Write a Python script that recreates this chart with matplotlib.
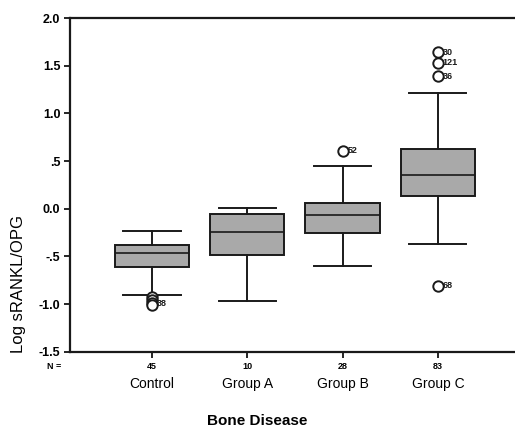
import matplotlib.pyplot as plt

plt.rcParams["font.family"] = ["Liberation Sans", "DejaVu Sans"]
plt.rcParams["axes.unicode_minus"] = False

groups = ["Control", "Group A", "Group B", "Group C"]
counts = [45, 10, 28, 83]
whis_lo = [-0.90, -0.97, -0.60, -0.37]
q1 = [-0.61, -0.48, -0.25, 0.13]
medians = [-0.46, -0.24, -0.07, 0.35]
q3 = [-0.38, -0.05, 0.06, 0.63]
whis_hi = [-0.23, 0.01, 0.45, 1.21]

# outliers: (group index, value, case label); the control cluster shares one label
outliers = [
    (0, -0.93, ""), (0, -0.96, ""), (0, -0.99, "38"), (0, -1.01, ""),
    (2, 0.61, "52"),
    (3, 1.64, "30"), (3, 1.53, "121"), (3, 1.39, "36"), (3, -0.81, "68"),
]

yticks = [2.0, 1.5, 1.0, 0.5, 0.0, -0.5, -1.0, -1.5]
ytick_labels = ["2.0", "1.5", "1.0", ".5", "0.0", "-.5", "-1.0", "-1.5"]


def main():
    fig = plt.figure(figsize=(5.15, 4.29), dpi=100)
    ax = fig.add_axes([0.136, 0.18, 0.864, 0.778])

    positions = list(range(1, len(groups) + 1))
    stats = []
    for i in range(len(groups)):
        stats.append({
            "med": medians[i], "q1": q1[i], "q3": q3[i],
            "whislo": whis_lo[i], "whishi": whis_hi[i], "fliers": [],
        })

    ax.bxp(stats, positions=positions, widths=0.78, patch_artist=True,
           showfliers=False, capwidths=0.6,
           boxprops=dict(facecolor="#a9a9a9", edgecolor="#1a1a1a", linewidth=1.4),
           medianprops=dict(color="#1a1a1a", linewidth=1.2),
           whiskerprops=dict(color="#1a1a1a", linewidth=1.4),
           capprops=dict(color="#1a1a1a", linewidth=1.4))

    for gi, val, lab in outliers:
        ax.plot(positions[gi], val, "o", markersize=7.5, markerfacecolor="white",
                markeredgecolor="#1a1a1a", markeredgewidth=1.4, zorder=5)
        if lab:
            ax.text(positions[gi] + 0.05, val, lab, fontsize=6.5, fontweight="bold",
                    va="center", ha="left", color="#1a1a1a", zorder=6)

    ax.set_xlim(0.14, 4.81)
    ax.set_ylim(-1.5, 2.0)
    ax.set_yticks(yticks)
    ax.set_yticklabels(ytick_labels, fontsize=9, fontweight="bold")
    ax.set_xticks(positions)
    ax.set_xticklabels([str(c) for c in counts], fontsize=6.5, fontweight="bold")
    ax.tick_params(axis="both", direction="out", length=4, width=1.2, pad=3)

    for s in ["left", "bottom", "top"]:
        ax.spines[s].set_linewidth(1.6)
        ax.spines[s].set_color("#1a1a1a")
    ax.spines["right"].set_visible(False)

    ax.text(-0.02, -0.045, "N =", transform=ax.transAxes, fontsize=6.5,
            fontweight="bold", ha="right", va="center")
    for p, g in zip(positions, groups):
        ax.text(p, -1.84, g, fontsize=10, ha="center", va="center")

    fig.text(0.036, 0.338, "Log sRANKL/OPG", fontsize=12, rotation=90,
             ha="center", va="center")
    fig.text(0.5, 0.019, "Bone Disease", fontsize=11, fontweight="bold",
             ha="center", va="center")

    fig.savefig("out.png", dpi=100)
    plt.close(fig)


if __name__ == "__main__":
    main()
